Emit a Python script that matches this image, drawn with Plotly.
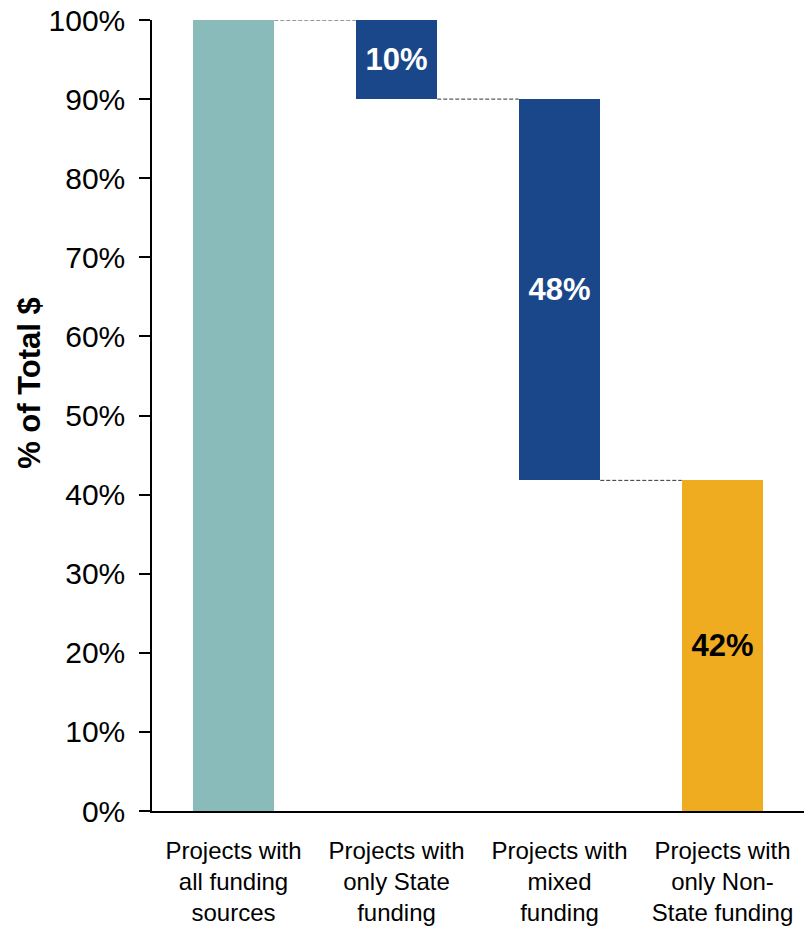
import plotly.graph_objects as go

categories = ["Projects with<br>all funding<br>sources",
              "Projects with<br>only State<br>funding",
              "Projects with<br>mixed<br>funding",
              "Projects with<br>only Non-<br>State funding"]
bar_tops = [100, 100, 90, 41.8]
bar_bottoms = [0, 90, 41.8, 0]
labels = ["", "10%", "48%", "42%"]
label_colors = ["white", "white", "white", "black"]
colors = ["#8ABBBB", "#1A4789", "#1A4789", "#EFAC20"]
y_title = "% of Total $"

heights = [t - b for t, b in zip(bar_tops, bar_bottoms)]
xs = list(range(len(categories)))
BAR_W = 0.5

fig = go.Figure()
fig.add_trace(go.Bar(
    x=xs, y=heights, base=bar_bottoms, width=BAR_W,
    marker=dict(color=colors, line=dict(width=0)),
    text=labels, textposition="inside", insidetextanchor="middle",
    textangle=0, constraintext="none",
    textfont=dict(family="Liberation Sans", size=31, color=label_colors, weight="bold"),
    hoverinfo="skip", showlegend=False,
))

# connectors: from the right edge of a bar to the left edge of the next, at the running level
levels = [bar_tops[0], bar_bottoms[1], bar_bottoms[2]]
for i, lvl in enumerate(levels):
    fig.add_shape(type="line", xref="x", yref="y",
                  x0=xs[i] + BAR_W / 2, x1=xs[i + 1] - BAR_W / 2, y0=lvl, y1=lvl,
                  line=dict(color="#333333", width=1, dash="4px,2px"))

fig.add_annotation(text=y_title, textangle=-90, xref="paper", yref="paper",
                   x=-0.189, y=0.541, xanchor="center", yanchor="middle", showarrow=False,
                   font=dict(family="Liberation Sans", size=31, weight="bold", color="black"))

fig.update_layout(
    width=805, height=929,
    margin=dict(l=152, r=1, t=20, b=118),
    plot_bgcolor="white", paper_bgcolor="white",
    font=dict(family="Liberation Sans", color="black"),
    bargap=0,
)
fig.update_xaxes(
    tickmode="array", tickvals=xs, ticktext=categories,
    range=[-0.5, len(categories) - 0.5],
    showline=True, linecolor="black", linewidth=1.5,
    ticks="", showgrid=False, zeroline=False,
    tickfont=dict(size=24, color="black"),
    ticklabelstandoff=17, automargin=False,
)
fig.update_yaxes(
    range=[0, 100], dtick=10, ticksuffix="%",
    showline=True, linecolor="black", linewidth=1.5,
    ticks="outside", ticklen=11, tickwidth=1.5, tickcolor="black",
    showgrid=False, zeroline=False,
    tickfont=dict(size=30, color="black"),
    ticklabelstandoff=8, automargin=False,
)

fig.write_html("out.html")
